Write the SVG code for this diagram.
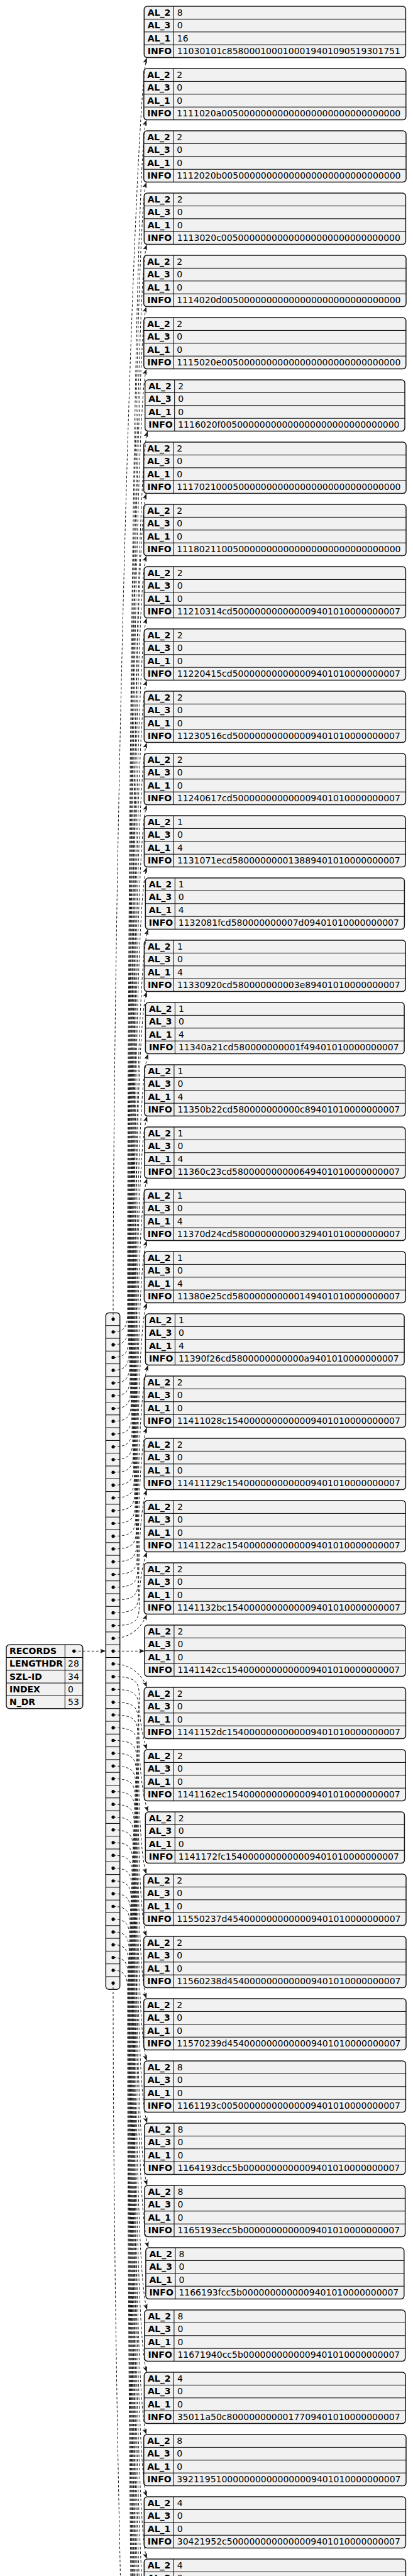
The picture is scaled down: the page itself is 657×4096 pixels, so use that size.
<svg xmlns="http://www.w3.org/2000/svg" width="657" height="4096" viewBox="0 0 657 4096">
<style>
.b{fill:#F1F1F1;stroke:#181818;stroke-width:1.5}
.l{fill:none;stroke:#000;stroke-width:1}
.k{font-family:"DejaVu Sans",sans-serif;font-size:14px;font-weight:bold;fill:#000}
.v{font-family:"DejaVu Sans",sans-serif;font-size:14px;fill:#000}
.e{fill:none;stroke:#181818;stroke-width:1;stroke-dasharray:4,3;marker-end:url(#ah)}
.d{fill:#000}
</style>
<defs>
<marker id="ah" markerUnits="userSpaceOnUse" markerWidth="10" markerHeight="8" refX="8.5" refY="3.5" orient="auto"><path d="M0,0L9,3.5L0,7L2,3.5Z" fill="#181818"/></marker>
</defs>
<rect width="657" height="4096" fill="#fff"/>

<g id="records" transform="translate(10,2615.2)">
<rect class="b" width="121.7" height="101.5" rx="5"/>
<path class="l" d="M0,20.3H121.7M0,40.6H121.7M0,60.9H121.7M0,81.2H121.7M93.3,0V101.5"/>
<text class="k" x="5" y="15">RECORDS</text><circle class="d" cx="107.7" cy="10.15" r="2.6"/>
<text class="k" x="5" y="35.3">LENGTHDR</text><text class="v" x="98" y="35.3">28</text>
<text class="k" x="5" y="55.6">SZL-ID</text><text class="v" x="98" y="55.6">34</text>
<text class="k" x="5" y="75.9">INDEX</text><text class="v" x="98" y="75.9">0</text>
<text class="k" x="5" y="96.2">N_DR</text><text class="v" x="98" y="96.2">53</text>
</g>

<g id="array">
<rect class="b" x="168.3" y="2087.4" width="22.4" height="1075.9" rx="5"/>
<path class="l" d="M168.3,2107.7H190.7M168.3,2128H190.7M168.3,2148.3H190.7M168.3,2168.6H190.7M168.3,2188.9H190.7M168.3,2209.2H190.7M168.3,2229.5H190.7M168.3,2249.8H190.7M168.3,2270.1H190.7M168.3,2290.4H190.7M168.3,2310.7H190.7M168.3,2331H190.7M168.3,2351.3H190.7M168.3,2371.6H190.7M168.3,2391.9H190.7M168.3,2412.2H190.7M168.3,2432.5H190.7M168.3,2452.8H190.7M168.3,2473.1H190.7M168.3,2493.4H190.7M168.3,2513.7H190.7M168.3,2534H190.7M168.3,2554.3H190.7M168.3,2574.6H190.7M168.3,2594.9H190.7M168.3,2615.2H190.7M168.3,2635.5H190.7M168.3,2655.8H190.7M168.3,2676.1H190.7M168.3,2696.4H190.7M168.3,2716.7H190.7M168.3,2737H190.7M168.3,2757.3H190.7M168.3,2777.6H190.7M168.3,2797.9H190.7M168.3,2818.2H190.7M168.3,2838.5H190.7M168.3,2858.8H190.7M168.3,2879.1H190.7M168.3,2899.4H190.7M168.3,2919.7H190.7M168.3,2940H190.7M168.3,2960.3H190.7M168.3,2980.6H190.7M168.3,3000.9H190.7M168.3,3021.2H190.7M168.3,3041.5H190.7M168.3,3061.8H190.7M168.3,3082.1H190.7M168.3,3102.4H190.7M168.3,3122.7H190.7M168.3,3143H190.7"/>
<g class="d">
<circle cx="180" cy="2097.55" r="2.6"/><circle cx="180" cy="2117.85" r="2.6"/><circle cx="180" cy="2138.15" r="2.6"/><circle cx="180" cy="2158.45" r="2.6"/><circle cx="180" cy="2178.75" r="2.6"/><circle cx="180" cy="2199.05" r="2.6"/><circle cx="180" cy="2219.35" r="2.6"/><circle cx="180" cy="2239.65" r="2.6"/><circle cx="180" cy="2259.95" r="2.6"/><circle cx="180" cy="2280.25" r="2.6"/><circle cx="180" cy="2300.55" r="2.6"/><circle cx="180" cy="2320.85" r="2.6"/><circle cx="180" cy="2341.15" r="2.6"/><circle cx="180" cy="2361.45" r="2.6"/><circle cx="180" cy="2381.75" r="2.6"/><circle cx="180" cy="2402.05" r="2.6"/><circle cx="180" cy="2422.35" r="2.6"/><circle cx="180" cy="2442.65" r="2.6"/><circle cx="180" cy="2462.95" r="2.6"/><circle cx="180" cy="2483.25" r="2.6"/><circle cx="180" cy="2503.55" r="2.6"/><circle cx="180" cy="2523.85" r="2.6"/><circle cx="180" cy="2544.15" r="2.6"/><circle cx="180" cy="2564.45" r="2.6"/><circle cx="180" cy="2584.75" r="2.6"/><circle cx="180" cy="2605.05" r="2.6"/><circle cx="180" cy="2625.35" r="2.6"/><circle cx="180" cy="2645.65" r="2.6"/><circle cx="180" cy="2665.95" r="2.6"/><circle cx="180" cy="2686.25" r="2.6"/><circle cx="180" cy="2706.55" r="2.6"/><circle cx="180" cy="2726.85" r="2.6"/><circle cx="180" cy="2747.15" r="2.6"/><circle cx="180" cy="2767.45" r="2.6"/><circle cx="180" cy="2787.75" r="2.6"/><circle cx="180" cy="2808.05" r="2.6"/><circle cx="180" cy="2828.35" r="2.6"/><circle cx="180" cy="2848.65" r="2.6"/><circle cx="180" cy="2868.95" r="2.6"/><circle cx="180" cy="2889.25" r="2.6"/><circle cx="180" cy="2909.55" r="2.6"/><circle cx="180" cy="2929.85" r="2.6"/><circle cx="180" cy="2950.15" r="2.6"/><circle cx="180" cy="2970.45" r="2.6"/><circle cx="180" cy="2990.75" r="2.6"/><circle cx="180" cy="3011.05" r="2.6"/><circle cx="180" cy="3031.35" r="2.6"/><circle cx="180" cy="3051.65" r="2.6"/><circle cx="180" cy="3071.95" r="2.6"/><circle cx="180" cy="3092.25" r="2.6"/><circle cx="180" cy="3112.55" r="2.6"/><circle cx="180" cy="3132.85" r="2.6"/><circle cx="180" cy="3153.15" r="2.6"/>
</g>
</g>

<g id="n1" transform="translate(229.3,10)"><rect class="b" width="416.1" height="81.6" rx="5"/><path class="l" d="M0,20.4H416.1M0,40.8H416.1M0,61.2H416.1M47,0V81.6"/><text class="k" x="5.5" y="15">AL_2</text><text class="v" x="52.5" y="15">8</text><text class="k" x="5.5" y="35.4">AL_3</text><text class="v" x="52.5" y="35.4">0</text><text class="k" x="5.5" y="55.8">AL_1</text><text class="v" x="52.5" y="55.8">16</text><text class="k" x="5.5" y="76.2">INFO</text><text class="v" x="52.5" y="76.2">11030101c8580001000100019401090519301751</text></g>
<g id="n2" transform="translate(228.8,109)"><rect class="b" width="417" height="81.6" rx="5"/><path class="l" d="M0,20.4H417M0,40.8H417M0,61.2H417M47,0V81.6"/><text class="k" x="5.5" y="15">AL_2</text><text class="v" x="52.5" y="15">2</text><text class="k" x="5.5" y="35.4">AL_3</text><text class="v" x="52.5" y="35.4">0</text><text class="k" x="5.5" y="55.8">AL_1</text><text class="v" x="52.5" y="55.8">0</text><text class="k" x="5.5" y="76.2">INFO</text><text class="v" x="52.5" y="76.2">1111020a00500000000000000000000000000000</text></g>
<g id="n3" transform="translate(228.7,208)"><rect class="b" width="417.3" height="81.6" rx="5"/><path class="l" d="M0,20.4H417.3M0,40.8H417.3M0,61.2H417.3M47,0V81.6"/><text class="k" x="5.5" y="15">AL_2</text><text class="v" x="52.5" y="15">2</text><text class="k" x="5.5" y="35.4">AL_3</text><text class="v" x="52.5" y="35.4">0</text><text class="k" x="5.5" y="55.8">AL_1</text><text class="v" x="52.5" y="55.8">0</text><text class="k" x="5.5" y="76.2">INFO</text><text class="v" x="52.5" y="76.2">1112020b00500000000000000000000000000000</text></g>
<g id="n4" transform="translate(229.3,307)"><rect class="b" width="416.1" height="81.6" rx="5"/><path class="l" d="M0,20.4H416.1M0,40.8H416.1M0,61.2H416.1M47,0V81.6"/><text class="k" x="5.5" y="15">AL_2</text><text class="v" x="52.5" y="15">2</text><text class="k" x="5.5" y="35.4">AL_3</text><text class="v" x="52.5" y="35.4">0</text><text class="k" x="5.5" y="55.8">AL_1</text><text class="v" x="52.5" y="55.8">0</text><text class="k" x="5.5" y="76.2">INFO</text><text class="v" x="52.5" y="76.2">1113020c00500000000000000000000000000000</text></g>
<g id="n5" transform="translate(228.7,406)"><rect class="b" width="417.3" height="81.6" rx="5"/><path class="l" d="M0,20.4H417.3M0,40.8H417.3M0,61.2H417.3M47,0V81.6"/><text class="k" x="5.5" y="15">AL_2</text><text class="v" x="52.5" y="15">2</text><text class="k" x="5.5" y="35.4">AL_3</text><text class="v" x="52.5" y="35.4">0</text><text class="k" x="5.5" y="55.8">AL_1</text><text class="v" x="52.5" y="55.8">0</text><text class="k" x="5.5" y="76.2">INFO</text><text class="v" x="52.5" y="76.2">1114020d00500000000000000000000000000000</text></g>
<g id="n6" transform="translate(228.8,505)"><rect class="b" width="417" height="81.6" rx="5"/><path class="l" d="M0,20.4H417M0,40.8H417M0,61.2H417M47,0V81.6"/><text class="k" x="5.5" y="15">AL_2</text><text class="v" x="52.5" y="15">2</text><text class="k" x="5.5" y="35.4">AL_3</text><text class="v" x="52.5" y="35.4">0</text><text class="k" x="5.5" y="55.8">AL_1</text><text class="v" x="52.5" y="55.8">0</text><text class="k" x="5.5" y="76.2">INFO</text><text class="v" x="52.5" y="76.2">1115020e00500000000000000000000000000000</text></g>
<g id="n7" transform="translate(230.7,604)"><rect class="b" width="413.3" height="81.6" rx="5"/><path class="l" d="M0,20.4H413.3M0,40.8H413.3M0,61.2H413.3M47,0V81.6"/><text class="k" x="5.5" y="15">AL_2</text><text class="v" x="52.5" y="15">2</text><text class="k" x="5.5" y="35.4">AL_3</text><text class="v" x="52.5" y="35.4">0</text><text class="k" x="5.5" y="55.8">AL_1</text><text class="v" x="52.5" y="55.8">0</text><text class="k" x="5.5" y="76.2">INFO</text><text class="v" x="52.5" y="76.2">1116020f00500000000000000000000000000000</text></g>
<g id="n8" transform="translate(228.7,703)"><rect class="b" width="417.3" height="81.6" rx="5"/><path class="l" d="M0,20.4H417.3M0,40.8H417.3M0,61.2H417.3M47,0V81.6"/><text class="k" x="5.5" y="15">AL_2</text><text class="v" x="52.5" y="15">2</text><text class="k" x="5.5" y="35.4">AL_3</text><text class="v" x="52.5" y="35.4">0</text><text class="k" x="5.5" y="55.8">AL_1</text><text class="v" x="52.5" y="55.8">0</text><text class="k" x="5.5" y="76.2">INFO</text><text class="v" x="52.5" y="76.2">1117021000500000000000000000000000000000</text></g>
<g id="n9" transform="translate(228.7,802)"><rect class="b" width="417.3" height="81.6" rx="5"/><path class="l" d="M0,20.4H417.3M0,40.8H417.3M0,61.2H417.3M47,0V81.6"/><text class="k" x="5.5" y="15">AL_2</text><text class="v" x="52.5" y="15">2</text><text class="k" x="5.5" y="35.4">AL_3</text><text class="v" x="52.5" y="35.4">0</text><text class="k" x="5.5" y="55.8">AL_1</text><text class="v" x="52.5" y="55.8">0</text><text class="k" x="5.5" y="76.2">INFO</text><text class="v" x="52.5" y="76.2">1118021100500000000000000000000000000000</text></g>
<g id="n10" transform="translate(229.3,901)"><rect class="b" width="416.1" height="81.6" rx="5"/><path class="l" d="M0,20.4H416.1M0,40.8H416.1M0,61.2H416.1M47,0V81.6"/><text class="k" x="5.5" y="15">AL_2</text><text class="v" x="52.5" y="15">2</text><text class="k" x="5.5" y="35.4">AL_3</text><text class="v" x="52.5" y="35.4">0</text><text class="k" x="5.5" y="55.8">AL_1</text><text class="v" x="52.5" y="55.8">0</text><text class="k" x="5.5" y="76.2">INFO</text><text class="v" x="52.5" y="76.2">11210314cd500000000000009401010000000007</text></g>
<g id="n11" transform="translate(229.3,1000)"><rect class="b" width="416.1" height="81.6" rx="5"/><path class="l" d="M0,20.4H416.1M0,40.8H416.1M0,61.2H416.1M47,0V81.6"/><text class="k" x="5.5" y="15">AL_2</text><text class="v" x="52.5" y="15">2</text><text class="k" x="5.5" y="35.4">AL_3</text><text class="v" x="52.5" y="35.4">0</text><text class="k" x="5.5" y="55.8">AL_1</text><text class="v" x="52.5" y="55.8">0</text><text class="k" x="5.5" y="76.2">INFO</text><text class="v" x="52.5" y="76.2">11220415cd500000000000009401010000000007</text></g>
<g id="n12" transform="translate(229.3,1099)"><rect class="b" width="416.1" height="81.6" rx="5"/><path class="l" d="M0,20.4H416.1M0,40.8H416.1M0,61.2H416.1M47,0V81.6"/><text class="k" x="5.5" y="15">AL_2</text><text class="v" x="52.5" y="15">2</text><text class="k" x="5.5" y="35.4">AL_3</text><text class="v" x="52.5" y="35.4">0</text><text class="k" x="5.5" y="55.8">AL_1</text><text class="v" x="52.5" y="55.8">0</text><text class="k" x="5.5" y="76.2">INFO</text><text class="v" x="52.5" y="76.2">11230516cd500000000000009401010000000007</text></g>
<g id="n13" transform="translate(229.3,1198)"><rect class="b" width="416.1" height="81.6" rx="5"/><path class="l" d="M0,20.4H416.1M0,40.8H416.1M0,61.2H416.1M47,0V81.6"/><text class="k" x="5.5" y="15">AL_2</text><text class="v" x="52.5" y="15">2</text><text class="k" x="5.5" y="35.4">AL_3</text><text class="v" x="52.5" y="35.4">0</text><text class="k" x="5.5" y="55.8">AL_1</text><text class="v" x="52.5" y="55.8">0</text><text class="k" x="5.5" y="76.2">INFO</text><text class="v" x="52.5" y="76.2">11240617cd500000000000009401010000000007</text></g>
<g id="n14" transform="translate(229.4,1297)"><rect class="b" width="415.8" height="81.6" rx="5"/><path class="l" d="M0,20.4H415.8M0,40.8H415.8M0,61.2H415.8M47,0V81.6"/><text class="k" x="5.5" y="15">AL_2</text><text class="v" x="52.5" y="15">1</text><text class="k" x="5.5" y="35.4">AL_3</text><text class="v" x="52.5" y="35.4">0</text><text class="k" x="5.5" y="55.8">AL_1</text><text class="v" x="52.5" y="55.8">4</text><text class="k" x="5.5" y="76.2">INFO</text><text class="v" x="52.5" y="76.2">1131071ecd580000000013889401010000000007</text></g>
<g id="n15" transform="translate(231.3,1396)"><rect class="b" width="412.1" height="81.6" rx="5"/><path class="l" d="M0,20.4H412.1M0,40.8H412.1M0,61.2H412.1M47,0V81.6"/><text class="k" x="5.5" y="15">AL_2</text><text class="v" x="52.5" y="15">1</text><text class="k" x="5.5" y="35.4">AL_3</text><text class="v" x="52.5" y="35.4">0</text><text class="k" x="5.5" y="55.8">AL_1</text><text class="v" x="52.5" y="55.8">4</text><text class="k" x="5.5" y="76.2">INFO</text><text class="v" x="52.5" y="76.2">1132081fcd580000000007d09401010000000007</text></g>
<g id="n16" transform="translate(229.4,1495)"><rect class="b" width="415.8" height="81.6" rx="5"/><path class="l" d="M0,20.4H415.8M0,40.8H415.8M0,61.2H415.8M47,0V81.6"/><text class="k" x="5.5" y="15">AL_2</text><text class="v" x="52.5" y="15">1</text><text class="k" x="5.5" y="35.4">AL_3</text><text class="v" x="52.5" y="35.4">0</text><text class="k" x="5.5" y="55.8">AL_1</text><text class="v" x="52.5" y="55.8">4</text><text class="k" x="5.5" y="76.2">INFO</text><text class="v" x="52.5" y="76.2">11330920cd580000000003e89401010000000007</text></g>
<g id="n17" transform="translate(231.4,1594)"><rect class="b" width="411.7" height="81.6" rx="5"/><path class="l" d="M0,20.4H411.7M0,40.8H411.7M0,61.2H411.7M47,0V81.6"/><text class="k" x="5.5" y="15">AL_2</text><text class="v" x="52.5" y="15">1</text><text class="k" x="5.5" y="35.4">AL_3</text><text class="v" x="52.5" y="35.4">0</text><text class="k" x="5.5" y="55.8">AL_1</text><text class="v" x="52.5" y="55.8">4</text><text class="k" x="5.5" y="76.2">INFO</text><text class="v" x="52.5" y="76.2">11340a21cd580000000001f49401010000000007</text></g>
<g id="n18" transform="translate(229.9,1693)"><rect class="b" width="414.8" height="81.6" rx="5"/><path class="l" d="M0,20.4H414.8M0,40.8H414.8M0,61.2H414.8M47,0V81.6"/><text class="k" x="5.5" y="15">AL_2</text><text class="v" x="52.5" y="15">1</text><text class="k" x="5.5" y="35.4">AL_3</text><text class="v" x="52.5" y="35.4">0</text><text class="k" x="5.5" y="55.8">AL_1</text><text class="v" x="52.5" y="55.8">4</text><text class="k" x="5.5" y="76.2">INFO</text><text class="v" x="52.5" y="76.2">11350b22cd580000000000c89401010000000007</text></g>
<g id="n19" transform="translate(229.9,1792)"><rect class="b" width="414.8" height="81.6" rx="5"/><path class="l" d="M0,20.4H414.8M0,40.8H414.8M0,61.2H414.8M47,0V81.6"/><text class="k" x="5.5" y="15">AL_2</text><text class="v" x="52.5" y="15">1</text><text class="k" x="5.5" y="35.4">AL_3</text><text class="v" x="52.5" y="35.4">0</text><text class="k" x="5.5" y="55.8">AL_1</text><text class="v" x="52.5" y="55.8">4</text><text class="k" x="5.5" y="76.2">INFO</text><text class="v" x="52.5" y="76.2">11360c23cd580000000000649401010000000007</text></g>
<g id="n20" transform="translate(229.3,1891)"><rect class="b" width="416" height="81.6" rx="5"/><path class="l" d="M0,20.4H416M0,40.8H416M0,61.2H416M47,0V81.6"/><text class="k" x="5.5" y="15">AL_2</text><text class="v" x="52.5" y="15">1</text><text class="k" x="5.5" y="35.4">AL_3</text><text class="v" x="52.5" y="35.4">0</text><text class="k" x="5.5" y="55.8">AL_1</text><text class="v" x="52.5" y="55.8">4</text><text class="k" x="5.5" y="76.2">INFO</text><text class="v" x="52.5" y="76.2">11370d24cd580000000000329401010000000007</text></g>
<g id="n21" transform="translate(229.4,1990)"><rect class="b" width="415.8" height="81.6" rx="5"/><path class="l" d="M0,20.4H415.8M0,40.8H415.8M0,61.2H415.8M47,0V81.6"/><text class="k" x="5.5" y="15">AL_2</text><text class="v" x="52.5" y="15">1</text><text class="k" x="5.5" y="35.4">AL_3</text><text class="v" x="52.5" y="35.4">0</text><text class="k" x="5.5" y="55.8">AL_1</text><text class="v" x="52.5" y="55.8">4</text><text class="k" x="5.5" y="76.2">INFO</text><text class="v" x="52.5" y="76.2">11380e25cd580000000000149401010000000007</text></g>
<g id="n22" transform="translate(231.4,2089)"><rect class="b" width="411.7" height="81.6" rx="5"/><path class="l" d="M0,20.4H411.7M0,40.8H411.7M0,61.2H411.7M47,0V81.6"/><text class="k" x="5.5" y="15">AL_2</text><text class="v" x="52.5" y="15">1</text><text class="k" x="5.5" y="35.4">AL_3</text><text class="v" x="52.5" y="35.4">0</text><text class="k" x="5.5" y="55.8">AL_1</text><text class="v" x="52.5" y="55.8">4</text><text class="k" x="5.5" y="76.2">INFO</text><text class="v" x="52.5" y="76.2">11390f26cd5800000000000a9401010000000007</text></g>
<g id="n23" transform="translate(229.3,2188)"><rect class="b" width="416.1" height="81.6" rx="5"/><path class="l" d="M0,20.4H416.1M0,40.8H416.1M0,61.2H416.1M47,0V81.6"/><text class="k" x="5.5" y="15">AL_2</text><text class="v" x="52.5" y="15">2</text><text class="k" x="5.5" y="35.4">AL_3</text><text class="v" x="52.5" y="35.4">0</text><text class="k" x="5.5" y="55.8">AL_1</text><text class="v" x="52.5" y="55.8">0</text><text class="k" x="5.5" y="76.2">INFO</text><text class="v" x="52.5" y="76.2">11411028c1540000000000009401010000000007</text></g>
<g id="n24" transform="translate(229.3,2287)"><rect class="b" width="416.1" height="81.6" rx="5"/><path class="l" d="M0,20.4H416.1M0,40.8H416.1M0,61.2H416.1M47,0V81.6"/><text class="k" x="5.5" y="15">AL_2</text><text class="v" x="52.5" y="15">2</text><text class="k" x="5.5" y="35.4">AL_3</text><text class="v" x="52.5" y="35.4">0</text><text class="k" x="5.5" y="55.8">AL_1</text><text class="v" x="52.5" y="55.8">0</text><text class="k" x="5.5" y="76.2">INFO</text><text class="v" x="52.5" y="76.2">11411129c1540000000000009401010000000007</text></g>
<g id="n25" transform="translate(229.4,2386)"><rect class="b" width="415.7" height="81.6" rx="5"/><path class="l" d="M0,20.4H415.7M0,40.8H415.7M0,61.2H415.7M47,0V81.6"/><text class="k" x="5.5" y="15">AL_2</text><text class="v" x="52.5" y="15">2</text><text class="k" x="5.5" y="35.4">AL_3</text><text class="v" x="52.5" y="35.4">0</text><text class="k" x="5.5" y="55.8">AL_1</text><text class="v" x="52.5" y="55.8">0</text><text class="k" x="5.5" y="76.2">INFO</text><text class="v" x="52.5" y="76.2">1141122ac1540000000000009401010000000007</text></g>
<g id="n26" transform="translate(229.3,2485)"><rect class="b" width="416.1" height="81.6" rx="5"/><path class="l" d="M0,20.4H416.1M0,40.8H416.1M0,61.2H416.1M47,0V81.6"/><text class="k" x="5.5" y="15">AL_2</text><text class="v" x="52.5" y="15">2</text><text class="k" x="5.5" y="35.4">AL_3</text><text class="v" x="52.5" y="35.4">0</text><text class="k" x="5.5" y="55.8">AL_1</text><text class="v" x="52.5" y="55.8">0</text><text class="k" x="5.5" y="76.2">INFO</text><text class="v" x="52.5" y="76.2">1141132bc1540000000000009401010000000007</text></g>
<g id="n27" transform="translate(229.9,2584)"><rect class="b" width="414.9" height="81.6" rx="5"/><path class="l" d="M0,20.4H414.9M0,40.8H414.9M0,61.2H414.9M47,0V81.6"/><text class="k" x="5.5" y="15">AL_2</text><text class="v" x="52.5" y="15">2</text><text class="k" x="5.5" y="35.4">AL_3</text><text class="v" x="52.5" y="35.4">0</text><text class="k" x="5.5" y="55.8">AL_1</text><text class="v" x="52.5" y="55.8">0</text><text class="k" x="5.5" y="76.2">INFO</text><text class="v" x="52.5" y="76.2">1141142cc1540000000000009401010000000007</text></g>
<g id="n28" transform="translate(229.3,2683)"><rect class="b" width="416.1" height="81.6" rx="5"/><path class="l" d="M0,20.4H416.1M0,40.8H416.1M0,61.2H416.1M47,0V81.6"/><text class="k" x="5.5" y="15">AL_2</text><text class="v" x="52.5" y="15">2</text><text class="k" x="5.5" y="35.4">AL_3</text><text class="v" x="52.5" y="35.4">0</text><text class="k" x="5.5" y="55.8">AL_1</text><text class="v" x="52.5" y="55.8">0</text><text class="k" x="5.5" y="76.2">INFO</text><text class="v" x="52.5" y="76.2">1141152dc1540000000000009401010000000007</text></g>
<g id="n29" transform="translate(229.4,2782)"><rect class="b" width="415.8" height="81.6" rx="5"/><path class="l" d="M0,20.4H415.8M0,40.8H415.8M0,61.2H415.8M47,0V81.6"/><text class="k" x="5.5" y="15">AL_2</text><text class="v" x="52.5" y="15">2</text><text class="k" x="5.5" y="35.4">AL_3</text><text class="v" x="52.5" y="35.4">0</text><text class="k" x="5.5" y="55.8">AL_1</text><text class="v" x="52.5" y="55.8">0</text><text class="k" x="5.5" y="76.2">INFO</text><text class="v" x="52.5" y="76.2">1141162ec1540000000000009401010000000007</text></g>
<g id="n30" transform="translate(231.3,2881)"><rect class="b" width="412.1" height="81.6" rx="5"/><path class="l" d="M0,20.4H412.1M0,40.8H412.1M0,61.2H412.1M47,0V81.6"/><text class="k" x="5.5" y="15">AL_2</text><text class="v" x="52.5" y="15">2</text><text class="k" x="5.5" y="35.4">AL_3</text><text class="v" x="52.5" y="35.4">0</text><text class="k" x="5.5" y="55.8">AL_1</text><text class="v" x="52.5" y="55.8">0</text><text class="k" x="5.5" y="76.2">INFO</text><text class="v" x="52.5" y="76.2">1141172fc1540000000000009401010000000007</text></g>
<g id="n31" transform="translate(228.7,2980)"><rect class="b" width="417.3" height="81.6" rx="5"/><path class="l" d="M0,20.4H417.3M0,40.8H417.3M0,61.2H417.3M47,0V81.6"/><text class="k" x="5.5" y="15">AL_2</text><text class="v" x="52.5" y="15">2</text><text class="k" x="5.5" y="35.4">AL_3</text><text class="v" x="52.5" y="35.4">0</text><text class="k" x="5.5" y="55.8">AL_1</text><text class="v" x="52.5" y="55.8">0</text><text class="k" x="5.5" y="76.2">INFO</text><text class="v" x="52.5" y="76.2">11550237d4540000000000009401010000000007</text></g>
<g id="n32" transform="translate(228.7,3079)"><rect class="b" width="417.3" height="81.6" rx="5"/><path class="l" d="M0,20.4H417.3M0,40.8H417.3M0,61.2H417.3M47,0V81.6"/><text class="k" x="5.5" y="15">AL_2</text><text class="v" x="52.5" y="15">2</text><text class="k" x="5.5" y="35.4">AL_3</text><text class="v" x="52.5" y="35.4">0</text><text class="k" x="5.5" y="55.8">AL_1</text><text class="v" x="52.5" y="55.8">0</text><text class="k" x="5.5" y="76.2">INFO</text><text class="v" x="52.5" y="76.2">11560238d4540000000000009401010000000007</text></g>
<g id="n33" transform="translate(228.7,3178)"><rect class="b" width="417.3" height="81.6" rx="5"/><path class="l" d="M0,20.4H417.3M0,40.8H417.3M0,61.2H417.3M47,0V81.6"/><text class="k" x="5.5" y="15">AL_2</text><text class="v" x="52.5" y="15">2</text><text class="k" x="5.5" y="35.4">AL_3</text><text class="v" x="52.5" y="35.4">0</text><text class="k" x="5.5" y="55.8">AL_1</text><text class="v" x="52.5" y="55.8">0</text><text class="k" x="5.5" y="76.2">INFO</text><text class="v" x="52.5" y="76.2">11570239d4540000000000009401010000000007</text></g>
<g id="n34" transform="translate(229.3,3277)"><rect class="b" width="416.1" height="81.6" rx="5"/><path class="l" d="M0,20.4H416.1M0,40.8H416.1M0,61.2H416.1M47,0V81.6"/><text class="k" x="5.5" y="15">AL_2</text><text class="v" x="52.5" y="15">8</text><text class="k" x="5.5" y="35.4">AL_3</text><text class="v" x="52.5" y="35.4">0</text><text class="k" x="5.5" y="55.8">AL_1</text><text class="v" x="52.5" y="55.8">0</text><text class="k" x="5.5" y="76.2">INFO</text><text class="v" x="52.5" y="76.2">1161193c00500000000000009401010000000007</text></g>
<g id="n35" transform="translate(229.9,3376)"><rect class="b" width="414.8" height="81.6" rx="5"/><path class="l" d="M0,20.4H414.8M0,40.8H414.8M0,61.2H414.8M47,0V81.6"/><text class="k" x="5.5" y="15">AL_2</text><text class="v" x="52.5" y="15">8</text><text class="k" x="5.5" y="35.4">AL_3</text><text class="v" x="52.5" y="35.4">0</text><text class="k" x="5.5" y="55.8">AL_1</text><text class="v" x="52.5" y="55.8">0</text><text class="k" x="5.5" y="76.2">INFO</text><text class="v" x="52.5" y="76.2">1164193dcc5b0000000000009401010000000007</text></g>
<g id="n36" transform="translate(230,3475)"><rect class="b" width="414.6" height="81.6" rx="5"/><path class="l" d="M0,20.4H414.6M0,40.8H414.6M0,61.2H414.6M47,0V81.6"/><text class="k" x="5.5" y="15">AL_2</text><text class="v" x="52.5" y="15">8</text><text class="k" x="5.5" y="35.4">AL_3</text><text class="v" x="52.5" y="35.4">0</text><text class="k" x="5.5" y="55.8">AL_1</text><text class="v" x="52.5" y="55.8">0</text><text class="k" x="5.5" y="76.2">INFO</text><text class="v" x="52.5" y="76.2">1165193ecc5b0000000000009401010000000007</text></g>
<g id="n37" transform="translate(231.9,3574)"><rect class="b" width="410.9" height="81.6" rx="5"/><path class="l" d="M0,20.4H410.9M0,40.8H410.9M0,61.2H410.9M47,0V81.6"/><text class="k" x="5.5" y="15">AL_2</text><text class="v" x="52.5" y="15">8</text><text class="k" x="5.5" y="35.4">AL_3</text><text class="v" x="52.5" y="35.4">0</text><text class="k" x="5.5" y="55.8">AL_1</text><text class="v" x="52.5" y="55.8">0</text><text class="k" x="5.5" y="76.2">INFO</text><text class="v" x="52.5" y="76.2">1166193fcc5b0000000000009401010000000007</text></g>
<g id="n38" transform="translate(229.9,3673)"><rect class="b" width="414.8" height="81.6" rx="5"/><path class="l" d="M0,20.4H414.8M0,40.8H414.8M0,61.2H414.8M47,0V81.6"/><text class="k" x="5.5" y="15">AL_2</text><text class="v" x="52.5" y="15">8</text><text class="k" x="5.5" y="35.4">AL_3</text><text class="v" x="52.5" y="35.4">0</text><text class="k" x="5.5" y="55.8">AL_1</text><text class="v" x="52.5" y="55.8">0</text><text class="k" x="5.5" y="76.2">INFO</text><text class="v" x="52.5" y="76.2">11671940cc5b0000000000009401010000000007</text></g>
<g id="n39" transform="translate(229.4,3772)"><rect class="b" width="415.7" height="81.6" rx="5"/><path class="l" d="M0,20.4H415.7M0,40.8H415.7M0,61.2H415.7M47,0V81.6"/><text class="k" x="5.5" y="15">AL_2</text><text class="v" x="52.5" y="15">4</text><text class="k" x="5.5" y="35.4">AL_3</text><text class="v" x="52.5" y="35.4">0</text><text class="k" x="5.5" y="55.8">AL_1</text><text class="v" x="52.5" y="55.8">0</text><text class="k" x="5.5" y="76.2">INFO</text><text class="v" x="52.5" y="76.2">35011a50c8000000000017709401010000000007</text></g>
<g id="n40" transform="translate(228.7,3871)"><rect class="b" width="417.3" height="81.6" rx="5"/><path class="l" d="M0,20.4H417.3M0,40.8H417.3M0,61.2H417.3M47,0V81.6"/><text class="k" x="5.5" y="15">AL_2</text><text class="v" x="52.5" y="15">8</text><text class="k" x="5.5" y="35.4">AL_3</text><text class="v" x="52.5" y="35.4">0</text><text class="k" x="5.5" y="55.8">AL_1</text><text class="v" x="52.5" y="55.8">0</text><text class="k" x="5.5" y="76.2">INFO</text><text class="v" x="52.5" y="76.2">3921195100000000000000009401010000000007</text></g>
<g id="n41" transform="translate(229.3,3970)"><rect class="b" width="416.1" height="81.6" rx="5"/><path class="l" d="M0,20.4H416.1M0,40.8H416.1M0,61.2H416.1M47,0V81.6"/><text class="k" x="5.5" y="15">AL_2</text><text class="v" x="52.5" y="15">4</text><text class="k" x="5.5" y="35.4">AL_3</text><text class="v" x="52.5" y="35.4">0</text><text class="k" x="5.5" y="55.8">AL_1</text><text class="v" x="52.5" y="55.8">0</text><text class="k" x="5.5" y="76.2">INFO</text><text class="v" x="52.5" y="76.2">30421952c5000000000000009401010000000007</text></g>
<g id="n42" transform="translate(229.3,4069)"><rect class="b" width="416.1" height="81.6" rx="5"/><path class="l" d="M0,20.4H416.1M0,40.8H416.1M0,61.2H416.1M47,0V81.6"/><text class="k" x="5.5" y="15">AL_2</text><text class="v" x="52.5" y="15">4</text><text class="k" x="5.5" y="35.4">AL_3</text><text class="v" x="52.5" y="35.4">0</text></g>

<g id="connectors">
<path class="e" d="M117.7,2625.35H167.8"/>
<path class="e" d="M180,2097.55C180,1295.5 215.3,146.4 233.3,92.4"/>
<path class="e" d="M180,2117.85C197,2117.85 203,2109.85 203,2087.85C203,1329.27 214.8,245.4 232.8,191.4"/>
<path class="e" d="M180,2138.15C197.8,2138.15 203.8,2130.15 203.8,2108.15C203.8,1381.05 214.7,344.4 232.7,290.4"/>
<path class="e" d="M180,2158.45C198.6,2158.45 204.6,2150.45 204.6,2128.45C204.6,1432.83 215.3,443.4 233.3,389.4"/>
<path class="e" d="M180,2178.75C199.4,2178.75 205.4,2170.75 205.4,2148.75C205.4,1484.61 214.7,542.4 232.7,488.4"/>
<path class="e" d="M180,2199.05C200.2,2199.05 206.2,2191.05 206.2,2169.05C206.2,1536.39 214.8,641.4 232.8,587.4"/>
<path class="e" d="M180,2219.35C201,2219.35 207,2211.35 207,2189.35C207,1588.17 216.7,740.4 234.7,686.4"/>
<path class="e" d="M180,2239.65C201.8,2239.65 207.8,2231.65 207.8,2209.65C207.8,1639.95 214.7,839.4 232.7,785.4"/>
<path class="e" d="M180,2259.95C202.6,2259.95 208.6,2251.95 208.6,2229.95C208.6,1691.73 214.7,938.4 232.7,884.4"/>
<path class="e" d="M180,2280.25C203.4,2280.25 209.4,2272.25 209.4,2250.25C209.4,1743.51 215.3,1037.4 233.3,983.4"/>
<path class="e" d="M180,2300.55C204.2,2300.55 210.2,2292.55 210.2,2270.55C210.2,1795.29 215.3,1136.4 233.3,1082.4"/>
<path class="e" d="M180,2320.85C205,2320.85 211,2312.85 211,2290.85C211,1847.07 215.3,1235.4 233.3,1181.4"/>
<path class="e" d="M180,2341.15C205.8,2341.15 211.8,2333.15 211.8,2311.15C211.8,1898.85 215.3,1334.4 233.3,1280.4"/>
<path class="e" d="M180,2361.45C206.6,2361.45 212.6,2353.45 212.6,2331.45C212.6,1950.63 215.4,1433.4 233.4,1379.4"/>
<path class="e" d="M180,2381.75C207.4,2381.75 213.4,2373.75 213.4,2351.75C213.4,2002.41 217.3,1532.4 235.3,1478.4"/>
<path class="e" d="M180,2402.05C208.2,2402.05 214.2,2394.05 214.2,2372.05C214.2,2054.19 216.2,1629 233.4,1577.4"/>
<path class="e" d="M180,2422.35C209,2422.35 215,2414.35 215,2392.35C215,2105.97 217.4,1730.4 235.4,1676.4"/>
<path class="e" d="M180,2442.65C209.8,2442.65 215.8,2434.65 215.8,2412.65C215.8,2157.75 217.8,1823.7 233.9,1775.4"/>
<path class="e" d="M180,2462.95C210.6,2462.95 216.6,2454.95 216.6,2432.95C216.6,2209.53 218.6,1920.3 233.9,1874.4"/>
<path class="e" d="M180,2483.25C211.4,2483.25 217.4,2475.25 217.4,2453.25C217.4,2261.31 219.4,2015.1 233.3,1973.4"/>
<path class="e" d="M180,2503.55C212.2,2503.55 218.2,2495.55 218.2,2473.55C218.2,2313.09 220.2,2112 233.4,2072.4"/>
<path class="e" d="M180,2523.85C213,2523.85 219,2515.85 219,2493.85C219,2364.87 221,2214.6 235.4,2171.4"/>
<path class="e" d="M180,2544.15C213.8,2544.15 219.8,2536.15 219.8,2514.15C219.8,2416.65 221.8,2304.9 233.3,2270.4"/>
<path class="e" d="M180,2564.45C214.6,2564.45 220.6,2556.45 220.6,2534.45C220.6,2468.43 222.6,2401.5 233.3,2369.4"/>
<path class="e" d="M180,2584.75C215.4,2584.75 221.4,2576.75 221.4,2554.75C221.4,2520.21 225.2,2493 233.4,2468.4"/>
<path class="e" d="M180,2605.05C208,2605.05 225.3,2587.4 233.3,2567.4"/>
<path class="e" d="M180,2625.35H229.7"/>
<path class="e" d="M180,2645.65C208,2645.65 225.3,2662.2 233.3,2682.2"/>
<path class="e" d="M180,2665.95C215.4,2665.95 221.4,2673.95 221.4,2695.95C221.4,2730.05 225.3,2756.9 233.4,2781.2"/>
<path class="e" d="M180,2686.25C214.6,2686.25 220.6,2694.25 220.6,2716.25C220.6,2781.83 222.6,2842.1 235.3,2880.2"/>
<path class="e" d="M180,2706.55C213.8,2706.55 219.8,2714.55 219.8,2736.55C219.8,2833.61 221.8,2946.5 232.7,2979.2"/>
<path class="e" d="M180,2726.85C213,2726.85 219,2734.85 219,2756.85C219,2885.39 221,3043.1 232.7,3078.2"/>
<path class="e" d="M180,2747.15C212.2,2747.15 218.2,2755.15 218.2,2777.15C218.2,2937.17 220.2,3139.7 232.7,3177.2"/>
<path class="e" d="M180,2767.45C211.4,2767.45 217.4,2775.45 217.4,2797.45C217.4,2988.95 219.4,3234.5 233.3,3276.2"/>
<path class="e" d="M180,2787.75C210.6,2787.75 216.6,2795.75 216.6,2817.75C216.6,3040.73 218.6,3329.3 233.9,3375.2"/>
<path class="e" d="M180,2808.05C209.8,2808.05 215.8,2816.05 215.8,2838.05C215.8,3092.51 217.8,3425.6 234,3474.2"/>
<path class="e" d="M180,2828.35C209,2828.35 215,2836.35 215,2858.35C215,3144.29 217.9,3519.2 235.9,3573.2"/>
<path class="e" d="M180,2848.65C208.2,2848.65 214.2,2856.65 214.2,2878.65C214.2,3196.07 216.2,3619.1 233.9,3672.2"/>
<path class="e" d="M180,2868.95C207.4,2868.95 213.4,2876.95 213.4,2898.95C213.4,3247.85 215.4,3717.2 233.4,3771.2"/>
<path class="e" d="M180,2889.25C206.6,2889.25 212.6,2897.25 212.6,2919.25C212.6,3299.63 214.7,3816.2 232.7,3870.2"/>
<path class="e" d="M180,2909.55C205.8,2909.55 211.8,2917.55 211.8,2939.55C211.8,3351.41 215.3,3915.2 233.3,3969.2"/>
<path class="e" d="M180,2929.85C205,2929.85 211,2937.85 211,2959.85C211,3403.19 215.3,4014.2 233.3,4068.2"/>
<path class="e" d="M180,2950.15C204.2,2950.15 210.2,2958.15 210.2,2980.15C210.2,3454.97 215.3,4113.2 233.3,4167.2"/>
<path class="e" d="M180,2970.45C203.4,2970.45 209.4,2978.45 209.4,3000.45C209.4,3506.75 215.3,4212.2 233.3,4266.2"/>
<path class="e" d="M180,2990.75C202.6,2990.75 208.6,2998.75 208.6,3020.75C208.6,3558.53 215.3,4311.2 233.3,4365.2"/>
<path class="e" d="M180,3011.05C201.8,3011.05 207.8,3019.05 207.8,3041.05C207.8,3610.31 215.3,4410.2 233.3,4464.2"/>
<path class="e" d="M180,3031.35C201,3031.35 207,3039.35 207,3061.35C207,3662.09 215.3,4509.2 233.3,4563.2"/>
<path class="e" d="M180,3051.65C200.2,3051.65 206.2,3059.65 206.2,3081.65C206.2,3713.87 215.3,4608.2 233.3,4662.2"/>
<path class="e" d="M180,3071.95C199.4,3071.95 205.4,3079.95 205.4,3101.95C205.4,3765.65 215.3,4707.2 233.3,4761.2"/>
<path class="e" d="M180,3092.25C198.6,3092.25 204.6,3100.25 204.6,3122.25C204.6,3817.43 215.3,4806.2 233.3,4860.2"/>
<path class="e" d="M180,3112.55C197.8,3112.55 203.8,3120.55 203.8,3142.55C203.8,3869.21 215.3,4905.2 233.3,4959.2"/>
<path class="e" d="M180,3132.85C197,3132.85 203,3140.85 203,3162.85C203,3920.99 215.3,5004.2 233.3,5058.2"/>
<path class="e" d="M180,3153.15C180,3954.75 215.3,5103.2 233.3,5157.2"/>
</g>
</svg>
